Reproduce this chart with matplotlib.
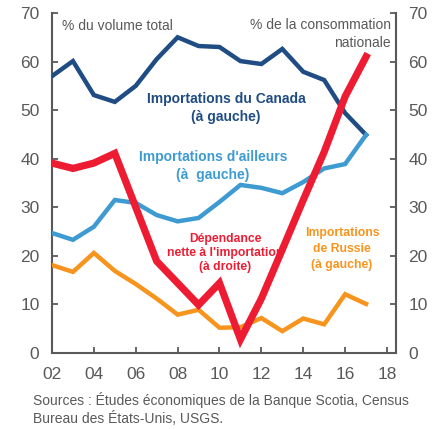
import matplotlib
matplotlib.use("Agg")
import matplotlib.pyplot as plt
import numpy as np

plt.rcParams['font.family'] = ['Liberation Sans', 'DejaVu Sans']

years = list(range(2002, 2018))
canada = [57.0, 60.1, 53.1, 51.7, 55.0, 60.5, 65.0, 63.2, 63.0, 60.1, 59.5, 62.6, 57.9, 56.2, 49.4, 44.9]
ailleurs = [24.7, 23.3, 26.0, 31.5, 30.9, 28.4, 27.1, 27.8, 31.1, 34.6, 34.0, 32.9, 35.2, 38.0, 38.9, 44.9]
russie = [18.1, 16.7, 20.6, 16.9, 14.2, 11.2, 7.9, 8.9, 5.2, 5.3, 7.2, 4.5, 7.1, 5.9, 12.1, 10.1]
dependance = [39.1, 38.0, 39.1, 41.1, 30.0, 18.9, 14.4, 9.9, 14.4, 2.8, 11.2, 21.3, 31.5, 41.4, 52.8, 61.0]
xticks = list(range(2002, 2019, 2))
xticklabels = ["02", "04", "06", "08", "10", "12", "14", "16", "18"]
yticks = list(range(0, 71, 10))

c_canada = "#1f4c82"
c_ailleurs = "#3d9bd1"
c_russie = "#f7941d"
c_dep = "#ed1c33"
gray = "#595959"

fig = plt.figure(figsize=(4.42, 4.29), dpi=100)
ax = fig.add_axes([52/442, 76/429, 344/442, 340/429])
ax2 = ax.twinx()

ax.plot(years, canada, color=c_canada, lw=3.2, solid_joinstyle='miter', zorder=3)
ax.plot(years, ailleurs, color=c_ailleurs, lw=3.2, solid_joinstyle='miter', zorder=3)
ax.plot(years, russie, color=c_russie, lw=3.2, solid_joinstyle='miter', zorder=3)
ax2.plot(years, dependance, color=c_dep, lw=5.2, solid_joinstyle='miter', zorder=3)

for a in (ax, ax2):
    a.set_ylim(0, 70)
    a.set_xlim(2002, 2018.43)
    a.set_yticks(yticks)
    a.tick_params(axis='both', direction='in', length=4, width=1.3, colors=gray,
                  labelsize=12.5, pad=9)
    for s in a.spines.values():
        s.set_color(gray)
        s.set_linewidth(1.5)
    a.spines['top'].set_visible(False)
ax.set_xticks(xticks)
ax.set_xticklabels(xticklabels)
ax.spines['right'].set_visible(False)
ax2.spines['left'].set_visible(False)
ax2.spines['bottom'].set_visible(False)
ax.tick_params(axis='x', pad=10)

ax.patch.set_visible(False)

tr = fig.transFigure
def px(x, y):
    return (x/442, 1 - y/429)

fig.text(*px(62, 26), "% du volume total", color=gray, fontsize=10, ha='left', va='center')
fig.text(*px(391, 34), "% de la consommation\nnationale", color=gray, fontsize=10,
         ha='right', va='center', linespacing=1.3)
fig.text(*px(226, 108), "Importations du Canada\n(à gauche)", color=c_canada, fontsize=10,
         fontweight='bold', ha='center', va='center', linespacing=1.35, zorder=1)
fig.text(*px(213, 166), "Importations d'ailleurs\n(à  gauche)", color=c_ailleurs, fontsize=10,
         fontweight='bold', ha='center', va='center', linespacing=1.35, zorder=1)
ax2.text(*px(225, 253), "Dépendance\nnette à l'importation\n(à droite)", color=c_dep, fontsize=8.7,
         fontweight='bold', ha='center', va='center', linespacing=1.25, zorder=1,
         transform=tr)
fig.text(*px(342, 249), "Importations\nde Russie\n(à gauche)", color=c_russie, fontsize=8.8,
         fontweight='bold', ha='center', va='center', linespacing=1.4, zorder=1)
fig.text(*px(33, 409), "Sources : Études économiques de la Banque Scotia, Census\nBureau des États-Unis, USGS.",
         color=gray, fontsize=10, ha='left', va='center', linespacing=1.25)

fig.savefig("out.png", dpi=100)
